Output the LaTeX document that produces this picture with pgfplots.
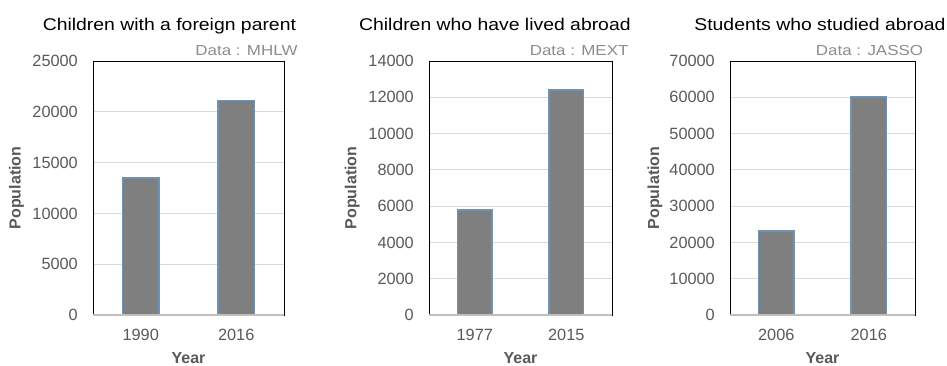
\documentclass[border=0pt]{standalone}
\usepackage{fontspec}
\setmainfont{Liberation Sans}
\usepackage{graphicx}
\usepackage{pgfplots}
\pgfplotsset{compat=1.18}

\definecolor{barfill}{HTML}{7F7F7F}
\definecolor{baredge}{HTML}{7092B5}
\definecolor{tickgray}{HTML}{595959}
\definecolor{srcgray}{HTML}{8C8C8C}
\definecolor{gridgray}{HTML}{D9D9D9}
\definecolor{basegray}{HTML}{BFBFBF}

\newcommand{\wide}[1]{\scalebox{1.14}[1]{#1}}

\tikzset{
  srclabel/.style={anchor=base east, inner sep=0pt, srcgray,
    font=\fontsize{14.5}{16}\selectfont},
  barstyle/.style={fill=barfill, draw=baredge, line width=1.5pt},
}

\pgfplotsset{
  popchart/.style={
    scale only axis, height=254pt, anchor=south west,
    xmin=-0.5, xmax=1.5, xtick={0,1},
    ymin=0,
    ybar, bar width=0.38,
    clip mode=individual,
    axis line style={black, line width=0.8pt},
    major tick length=0pt,
    ymajorgrids, grid style={gridgray, line width=0.9pt},
    scaled y ticks=false,
    /pgf/number format/set thousands separator={},
    /pgf/number format/assume math mode=true,
    tick label style={font=\fontsize{16.3}{18}\selectfont, color=tickgray},
    yticklabel style={inner sep=0pt, xshift=-15pt},
    xticklabel style={inner sep=0pt, yshift=-14pt},
    xlabel={Year},
    xlabel style={at={(axis description cs:0.5,-0.189)}, anchor=base,
      font=\bfseries\fontsize{16}{18}\selectfont, color=tickgray},
    ylabel={Population},
    ylabel style={anchor=center,
      font=\bfseries\fontsize{16}{18}\selectfont, color=tickgray},
    title style={anchor=base, yshift=0pt, font=\fontsize{17}{20}\selectfont},
  },
}

\begin{document}
\begin{tikzpicture}
\path[use as bounding box] (0,0) rectangle (947pt,366pt);

% Births with a foreign parent (MHLW)
\begin{axis}[popchart, at={(93pt,51pt)}, width=191pt,
  ymax=25000, ytick={0,5000,...,25000},
  xticklabels={1990,2016},
  ylabel style={at={(axis description cs:-0.40,0.5)}},
  title={\wide{Children with a foreign parent}},
  title style={at={(axis description cs:0.40,1.098)}}]
  \addplot[barstyle] coordinates {(0,13500) (1,21100)};
  \draw[basegray, line width=2pt] (rel axis cs:0,0) -- (rel axis cs:1,0);
  \node[srclabel] at (rel axis cs:1.072,1.020) {\scalebox{1.17}[1]{Data : MHLW}};
\end{axis}

% Returnee pupils (MEXT)
\begin{axis}[popchart, at={(429pt,51pt)}, width=183pt,
  ymax=14000, ytick={0,2000,...,14000},
  xticklabels={1977,2015},
  ylabel style={at={(axis description cs:-0.419,0.5)}},
  title={\wide{Children who have lived abroad}},
  title style={at={(axis description cs:0.36,1.098)}}]
  \addplot[barstyle] coordinates {(0,5800) (1,12400)};
  \draw[basegray, line width=2pt] (rel axis cs:0,0) -- (rel axis cs:1,0);
  \node[srclabel] at (rel axis cs:1.091,1.020) {\scalebox{1.17}[1]{Data : MEXT}};
\end{axis}

% Students studying abroad (JASSO)
\begin{axis}[popchart, at={(730pt,51pt)}, width=185pt,
  ymax=70000, ytick={0,10000,...,70000},
  xticklabels={2006,2016},
  ylabel style={at={(axis description cs:-0.405,0.5)}},
  title={\wide{Students who studied abroad}},
  title style={at={(axis description cs:0.486,1.098)}}]
  \addplot[barstyle] coordinates {(0,23100) (1,60100)};
  \draw[basegray, line width=2pt] (rel axis cs:0,0) -- (rel axis cs:1,0);
  \node[srclabel] at (rel axis cs:1.045,1.020) {\scalebox{1.17}[1]{Data : JASSO}};
\end{axis}
\end{tikzpicture}
\end{document}
